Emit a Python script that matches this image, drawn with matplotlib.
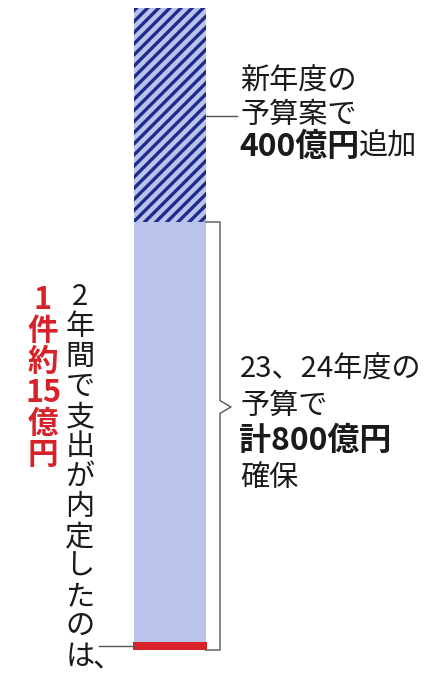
import matplotlib
matplotlib.use("Agg")
import matplotlib.pyplot as plt

plt.rcParams['font.family'] = ['Noto Sans CJK JP', 'DejaVu Sans']
plt.rcParams['hatch.linewidth'] = 2.4

# データ(億円)
shishutsu = 15          # 2年間で支出が内定した額
yosan_2324 = 800        # 23、24年度の予算
yosan_shin = 400        # 新年度の予算案で追加

hidari_moji = list("2年間で支出が内定したのは、")
aka_moji = ["1", "件", "約", "15", "億", "円"]
ue_gyou = ["新年度の", "予算案で"]
ue_futoji = "400億円"
ue_tsuzuki = "追加"
shita_gyou1 = ["23、24年度の", "予算で"]
shita_futoji = "計800億円"
shita_gyou2 = "確保"

# 色
usuao = "#bac4ea"
kon = "#1f2a8c"
aka = "#d8222a"
haiiro = "#555555"
kuro = "#1a1a1a"

W, H = 430, 674
fig = plt.figure(figsize=(W / 100, H / 100), dpi=100)

# 0億円がy=650px、1200億円がy=8pxになるように軸を合わせる
px_per = (650 - 8) / (yosan_2324 + yosan_shin)
ax = fig.add_axes([0, 0, 1, 1])
ax.set_xlim(0, W)
ax.set_ylim(-(H - 650) / px_per, 650 / px_per)
ax.axis('off')

def val(py):
    # 上からのピクセル位置 -> 億円
    return (650 - py) / px_per

def fx(px):
    return px / W

def fy(py):
    return 1 - py / H

bx, bw = 169.5, 72
# 棒グラフ(積み上げ)
ax.bar(bx, yosan_2324, width=bw, color=usuao, linewidth=0)
ax.bar(bx, yosan_shin, bottom=yosan_2324, width=bw, facecolor=usuao,
       edgecolor=kon, hatch='///', linewidth=0)
ax.bar(bx, shishutsu, width=bw + 2, color=aka, linewidth=0)

# かっこ(右側)
ku = 220
notch = val(407)
ax.plot([bx + bw / 2, ku, ku, ku + 11, ku, ku, bx + bw / 2],
        [yosan_2324, yosan_2324, notch + 12, notch, notch - 12, 0, 0],
        color=haiiro, lw=1.0)
# 引き出し線
ax.plot([bx + bw / 2, 237], [val(116), val(116)], color=haiiro, lw=1.0)
ax.plot([99, bx - bw / 2], [shishutsu / 2, shishutsu / 2], color=haiiro, lw=1.0)

fs = 21
fs_b = 23
renderer = fig.canvas.get_renderer()

def futoji_tsuki(x, py, futo, hoso):
    t = fig.text(fx(x), fy(py), futo, fontsize=fs_b, fontweight='bold',
                 ha='left', va='center', color=kuro)
    bb = t.get_window_extent(renderer=renderer)
    if hoso:
        fig.text(bb.x1 / W, fy(py), hoso, fontsize=fs, ha='left', va='center',
                 color=kuro)

# 右上の説明
for i, s in enumerate(ue_gyou):
    fig.text(fx(240), fy(82 + i * 33), s, fontsize=fs, ha='left', va='center',
             color=kuro)
futoji_tsuki(239, 147, ue_futoji, ue_tsuzuki)

# 右下の説明
for i, s in enumerate(shita_gyou1):
    fig.text(fx(240), fy(370 + i * 36), s, fontsize=fs, ha='left', va='center',
             color=kuro)
futoji_tsuki(239, 441, shita_futoji, "")
fig.text(fx(240), fy(478), shita_gyou2, fontsize=fs, ha='left', va='center',
         color=kuro)

# 縦書き(左)
for i, c in enumerate(hidari_moji):
    if c == "、":
        fig.text(fx(92), fy(674), c, fontsize=fs, ha='left', va='bottom',
                 color=kuro)
    else:
        fig.text(fx(80), fy(297 + i * 30), c, fontsize=fs, ha='center',
                 va='center', color=kuro)

# 縦書き(赤)
for i, c in enumerate(aka_moji):
    fig.text(fx(43), fy(300 + i * 31), c, fontsize=22, fontweight='bold',
             ha='center', va='center', color=aka)

fig.savefig("out.png", dpi=100)
